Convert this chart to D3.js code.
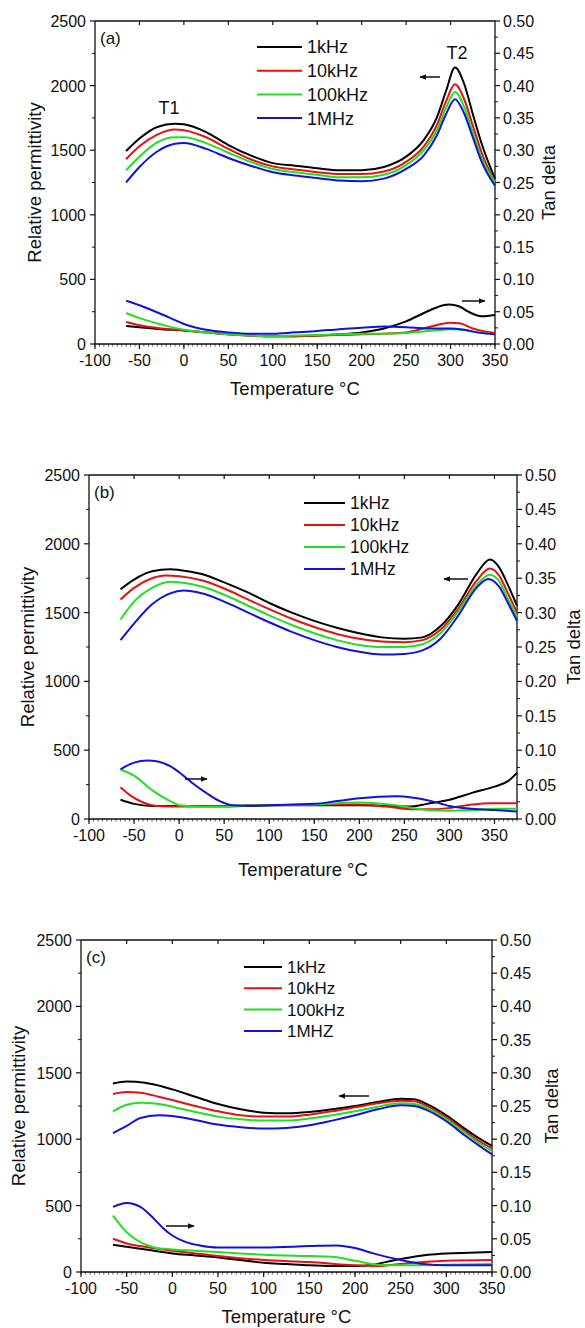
<!DOCTYPE html>
<html lang="en">
<head>
<meta charset="UTF-8">
<title>Relative permittivity and tan delta vs temperature</title>
<script src="https://d3js.org/d3.v7.min.js"></script>
<style>
    body { margin: 0; background: #fff; }
    svg { display: block; font-family: "Liberation Sans", Arial, sans-serif; }
    .tick-label { font-size: 16px; fill: #111; }
    .axis-title { font-size: 18.5px; fill: #111; }
    .legend-text { fill: #111; }
    .series { fill: none; stroke-width: 2; }
    .axis-line { stroke: #111; stroke-width: 1.3; fill: none; }
</style>
</head>
<body>
<svg id="chart" width="585" height="1328"></svg>
<script>
    const seriesNames = ["1kHz", "10kHz", "100kHz", "1MHz"];
    const seriesNamesC = ["1kHz", "10kHz", "100kHz", "1MHZ"];
    const seriesColors = ["#000000", "#e81010", "#20e020", "#1010e0"];
    const xTicks = [-100, -50, 0, 50, 100, 150, 200, 250, 300, 350];
    const permTicks = [0, 500, 1000, 1500, 2000, 2500];
    const tanTicks = [0, 0.05, 0.10, 0.15, 0.20, 0.25, 0.30, 0.35, 0.40, 0.45, 0.50];

    // panel (a) — relative permittivity, [temperature, value]
    const aPerm1k = [[-65,1493],[-50,1590],[-30,1680],[-10,1705],[0,1700],[25,1640],[50,1540],[75,1460],[100,1400],[125,1380],[150,1360],[175,1345],[200,1345],[225,1370],[250,1450],[270,1580],[285,1760],[295,1960],[305,2140],[315,2020],[325,1780],[335,1550],[350,1280]];
    const aPerm10k = [[-65,1430],[-50,1530],[-30,1620],[-10,1660],[0,1655],[25,1600],[50,1510],[75,1430],[100,1375],[125,1350],[150,1330],[175,1315],[200,1315],[225,1335],[250,1410],[270,1530],[285,1700],[295,1880],[305,2010],[315,1900],[325,1690],[335,1480],[350,1255]];
    const aPerm100k = [[-65,1345],[-50,1450],[-30,1560],[-10,1600],[0,1600],[25,1555],[50,1480],[75,1410],[100,1355],[125,1330],[150,1310],[175,1290],[200,1290],[225,1310],[250,1385],[270,1500],[285,1660],[295,1830],[305,1950],[315,1840],[325,1640],[335,1440],[350,1250]];
    const aPerm1M = [[-65,1250],[-50,1370],[-30,1490],[-10,1550],[0,1555],[25,1510],[50,1440],[75,1380],[100,1330],[125,1305],[150,1285],[175,1265],[200,1260],[225,1280],[250,1355],[270,1460],[285,1620],[295,1780],[305,1895],[315,1790],[325,1600],[335,1410],[350,1225]];
    // panel (a) — tan delta
    const aTan1k = [[-65,0.028],[-50,0.026],[-25,0.023],[0,0.021],[25,0.018],[50,0.015],[75,0.013],[100,0.012],[125,0.012],[150,0.013],[175,0.015],[200,0.018],[225,0.024],[250,0.035],[270,0.048],[285,0.057],[298,0.061],[310,0.058],[320,0.050],[335,0.043],[350,0.045]];
    const aTan10k = [[-65,0.034],[-50,0.029],[-25,0.024],[0,0.021],[25,0.018],[50,0.015],[75,0.013],[100,0.012],[125,0.012],[150,0.013],[175,0.014],[200,0.015],[225,0.016],[250,0.018],[275,0.026],[300,0.033],[310,0.032],[325,0.024],[340,0.019],[350,0.017]];
    const aTan100k = [[-65,0.048],[-50,0.040],[-25,0.030],[0,0.022],[25,0.018],[50,0.015],[75,0.013],[100,0.012],[125,0.013],[150,0.014],[175,0.015],[200,0.016],[225,0.016],[250,0.017],[275,0.020],[300,0.023],[315,0.022],[330,0.018],[350,0.015]];
    const aTan1M = [[-65,0.067],[-50,0.060],[-25,0.046],[-10,0.037],[0,0.031],[25,0.022],[50,0.018],[75,0.016],[100,0.016],[125,0.018],[150,0.020],[175,0.023],[200,0.025],[225,0.027],[250,0.026],[275,0.024],[300,0.024],[315,0.022],[330,0.018],[350,0.015]];

    // panel (b)
    const bPerm1k = [[-65,1670],[-50,1740],[-30,1800],[-10,1815],[0,1810],[25,1780],[50,1720],[75,1650],[100,1570],[125,1500],[150,1440],[175,1390],[200,1350],[225,1320],[250,1310],[270,1320],[290,1400],[310,1560],[330,1780],[345,1885],[355,1830],[365,1700],[375,1550]];
    const bPerm10k = [[-65,1595],[-50,1680],[-30,1750],[-15,1770],[0,1765],[25,1735],[50,1675],[75,1600],[100,1525],[125,1455],[150,1395],[175,1345],[200,1310],[225,1290],[250,1285],[270,1300],[290,1375],[310,1530],[330,1730],[345,1820],[355,1770],[365,1640],[375,1500]];
    const bPerm100k = [[-65,1450],[-50,1580],[-30,1680],[-10,1725],[0,1720],[25,1690],[50,1630],[75,1555],[100,1480],[125,1410],[150,1350],[175,1300],[200,1265],[225,1250],[250,1250],[270,1270],[290,1350],[310,1510],[330,1700],[345,1775],[355,1730],[365,1600],[375,1470]];
    const bPerm1M = [[-65,1300],[-50,1420],[-30,1560],[-10,1640],[5,1660],[25,1640],[50,1580],[75,1505],[100,1430],[125,1360],[150,1300],[175,1250],[200,1215],[225,1195],[250,1200],[270,1225],[290,1310],[310,1480],[330,1680],[343,1745],[355,1690],[365,1570],[375,1440]];
    const bTan1k = [[-65,0.028],[-50,0.022],[-30,0.019],[0,0.019],[50,0.019],[100,0.020],[150,0.020],[200,0.020],[230,0.019],[255,0.018],[275,0.022],[300,0.028],[325,0.038],[350,0.047],[365,0.055],[375,0.067]];
    const bTan10k = [[-65,0.046],[-55,0.035],[-40,0.024],[-25,0.019],[0,0.018],[50,0.018],[100,0.020],[150,0.021],[200,0.021],[230,0.018],[260,0.014],[280,0.014],[300,0.016],[325,0.021],[345,0.023],[375,0.023]];
    const bTan100k = [[-65,0.072],[-50,0.063],[-30,0.042],[-10,0.026],[0,0.020],[25,0.018],[50,0.018],[100,0.020],[150,0.021],[200,0.024],[225,0.022],[250,0.018],[275,0.013],[300,0.012],[325,0.013],[350,0.015],[375,0.015]];
    const bTan1M = [[-65,0.072],[-50,0.082],[-35,0.085],[-25,0.084],[-10,0.077],[0,0.068],[15,0.052],[30,0.038],[45,0.026],[60,0.020],[80,0.019],[100,0.020],[150,0.022],[175,0.026],[200,0.030],[240,0.033],[260,0.031],[280,0.026],[300,0.019],[325,0.015],[350,0.013],[375,0.011]];

    // panel (c)
    const cPerm1k = [[-65,1420],[-50,1435],[-30,1425],[-10,1395],[0,1375],[25,1320],[50,1265],[75,1225],[100,1200],[125,1195],[150,1205],[175,1225],[200,1250],[225,1280],[250,1305],[265,1300],[280,1260],[300,1180],[320,1080],[335,1010],[350,950]];
    const cPerm10k = [[-65,1340],[-50,1355],[-35,1350],[-15,1320],[0,1295],[25,1250],[50,1210],[75,1180],[100,1170],[125,1170],[150,1185],[175,1210],[200,1240],[225,1270],[250,1290],[265,1285],[280,1245],[300,1165],[320,1065],[335,990],[350,930]];
    const cPerm100k = [[-65,1210],[-50,1260],[-35,1275],[-15,1265],[0,1245],[25,1205],[50,1170],[75,1150],[100,1140],[125,1140],[150,1155],[175,1180],[200,1210],[225,1245],[250,1270],[265,1265],[280,1230],[300,1150],[320,1050],[335,975],[350,910]];
    const cPerm1M = [[-65,1045],[-50,1100],[-35,1160],[-15,1180],[0,1175],[25,1145],[50,1110],[75,1090],[100,1080],[125,1085],[150,1105],[175,1140],[200,1180],[225,1225],[250,1255],[265,1250],[280,1215],[300,1135],[320,1030],[335,955],[350,885]];
    const cTan1k = [[-65,0.041],[-50,0.038],[-25,0.033],[0,0.028],[25,0.025],[50,0.022],[75,0.018],[100,0.014],[125,0.012],[150,0.010],[175,0.009],[200,0.009],[220,0.011],[240,0.017],[260,0.022],[280,0.026],[300,0.028],[325,0.029],[350,0.030]];
    const cTan10k = [[-65,0.050],[-50,0.043],[-25,0.037],[0,0.032],[25,0.028],[50,0.024],[100,0.018],[150,0.015],[200,0.010],[225,0.009],[250,0.012],[275,0.015],[300,0.017],[350,0.018]];
    const cTan100k = [[-65,0.085],[-50,0.060],[-35,0.045],[-20,0.037],[0,0.034],[25,0.032],[50,0.030],[100,0.026],[150,0.024],[175,0.023],[200,0.017],[225,0.011],[250,0.010],[300,0.011],[350,0.012]];
    const cTan1M = [[-65,0.098],[-50,0.104],[-35,0.098],[-20,0.080],[-10,0.066],[0,0.055],[15,0.045],[30,0.040],[50,0.037],[100,0.037],[150,0.039],[180,0.040],[200,0.036],[220,0.028],[250,0.018],[275,0.012],[300,0.010],[350,0.010]];

    const svg = d3.select("#chart");

    const panels = [
        { tag: "(a)", left: 95, right: 495, top: 21, bottom: 344, xMax: 350,
          perm: [aPerm1k, aPerm10k, aPerm100k, aPerm1M], tan: [aTan1k, aTan10k, aTan100k, aTan1M],
          names: seriesNames, legend: [257, 302, 47, 23.7, 18], yTitleX: 35, tanTitleX: 549, xTitleY: 395,
          arrows: [[440, 420, 77], [462, 485, 301]],
          notes: [["T1", 169, 114], ["T2", 457, 59]] },
        { tag: "(b)", left: 89, right: 517, top: 475, bottom: 819, xMax: 375,
          perm: [bPerm1k, bPerm10k, bPerm100k, bPerm1M], tan: [bTan1k, bTan10k, bTan100k, bTan1M],
          names: seriesNames, legend: [304, 345, 503, 22, 17.5], yTitleX: 28, tanTitleX: 574, xTitleY: 876,
          arrows: [[468, 444, 579], [185, 207, 779]], notes: [] },
        { tag: "(c)", left: 81, right: 492, top: 940, bottom: 1272, xMax: 350,
          perm: [cPerm1k, cPerm10k, cPerm100k, cPerm1M], tan: [cTan1k, cTan10k, cTan100k, cTan1M],
          names: seriesNamesC, legend: [244, 282, 967, 21.3, 17], yTitleX: 19, tanTitleX: 552, xTitleY: 1323,
          arrows: [[369, 339, 1096], [166, 194, 1226]], notes: [] }
    ];

    svg.append("defs").append("marker")
        .attr("id", "head")
        .attr("viewBox", "0 0 10 10")
        .attr("refX", 9).attr("refY", 5)
        .attr("markerWidth", 7).attr("markerHeight", 7)
        .attr("markerUnits", "userSpaceOnUse")
        .attr("orient", "auto")
        .append("path").attr("d", "M0,1 L10,5 L0,9 Z").attr("fill", "#111");

    panels.forEach(p => {
        const g = svg.append("g");
        const x = d3.scaleLinear().domain([-100, p.xMax]).range([p.left, p.right]);
        const yP = d3.scaleLinear().domain([0, 2500]).range([p.bottom, p.top]);
        const yT = d3.scaleLinear().domain([0, 0.5]).range([p.bottom, p.top]);

        // x ticks: minor every 5, major every 50, labels below
        const xMinor = d3.range(-100, p.xMax + 0.1, 5);
        g.selectAll(".xminor").data(xMinor).enter().append("line")
            .attr("x1", d => x(d)).attr("x2", d => x(d))
            .attr("y1", p.bottom).attr("y2", p.bottom + 2.5)
            .attr("stroke", "#333").attr("stroke-width", 0.8);
        g.selectAll(".xmajor").data(xTicks).enter().append("line")
            .attr("x1", d => x(d)).attr("x2", d => x(d))
            .attr("y1", p.bottom).attr("y2", p.bottom + 5)
            .attr("stroke", "#111").attr("stroke-width", 1.2);
        g.selectAll(".xtop").data(xTicks.filter(d => d > -100 && d < p.xMax)).enter().append("line")
            .attr("x1", d => x(d)).attr("x2", d => x(d))
            .attr("y1", p.top).attr("y2", p.top + 4)
            .attr("stroke", "#111").attr("stroke-width", 1.2);
        g.selectAll(".xlab").data(xTicks).enter().append("text")
            .attr("class", "tick-label")
            .attr("x", d => x(d)).attr("y", p.bottom + 22)
            .attr("text-anchor", "middle")
            .text(d => d);

        const permMinor = d3.range(250, 2500, 500);
        g.selectAll(".pminor").data(permMinor).enter().append("line")
            .attr("x1", p.left - 3).attr("x2", p.left)
            .attr("y1", d => yP(d)).attr("y2", d => yP(d))
            .attr("stroke", "#111").attr("stroke-width", 1);
        g.selectAll(".pmajor").data(permTicks).enter().append("line")
            .attr("x1", p.left - 5).attr("x2", p.left)
            .attr("y1", d => yP(d)).attr("y2", d => yP(d))
            .attr("stroke", "#111").attr("stroke-width", 1.2);
        g.selectAll(".plab").data(permTicks).enter().append("text")
            .attr("class", "tick-label")
            .attr("x", p.left - 9).attr("y", d => yP(d) + 6)
            .attr("text-anchor", "end")
            .text(d => d);

        const tanMinor = d3.range(0.025, 0.5, 0.05);
        g.selectAll(".tminor").data(tanMinor).enter().append("line")
            .attr("x1", p.right).attr("x2", p.right + 3)
            .attr("y1", d => yT(d)).attr("y2", d => yT(d))
            .attr("stroke", "#111").attr("stroke-width", 1);
        g.selectAll(".tmajor").data(tanTicks).enter().append("line")
            .attr("x1", p.right).attr("x2", p.right + 5)
            .attr("y1", d => yT(d)).attr("y2", d => yT(d))
            .attr("stroke", "#111").attr("stroke-width", 1.2);
        g.selectAll(".tlab").data(tanTicks).enter().append("text")
            .attr("class", "tick-label")
            .attr("x", p.right + 8).attr("y", d => yT(d) + 6)
            .text(d => d.toFixed(2));

        // frame
        g.append("path").attr("class", "axis-line")
            .attr("d", `M${p.left},${p.top}V${p.bottom}H${p.right}V${p.top}H${p.left}`);

        // series
        const permLine = d3.line().x(d => x(d[0])).y(d => yP(d[1])).curve(d3.curveMonotoneX);
        const tanLine = d3.line().x(d => x(d[0])).y(d => yT(d[1])).curve(d3.curveMonotoneX);
        p.tan.forEach((s, i) => {
            g.append("path").attr("class", "series")
                .attr("stroke", seriesColors[i]).attr("d", tanLine(s));
        });
        p.perm.forEach((s, i) => {
            g.append("path").attr("class", "series")
                .attr("stroke", seriesColors[i]).attr("d", permLine(s));
        });

        // legend
        const [lx1, lx2, ly0, ldy, lfs] = p.legend;
        p.names.forEach((n, i) => {
            g.append("line")
                .attr("x1", lx1).attr("x2", lx2)
                .attr("y1", ly0 + i * ldy).attr("y2", ly0 + i * ldy)
                .attr("stroke", seriesColors[i]).attr("stroke-width", 2);
            g.append("text").attr("class", "legend-text")
                .style("font-size", lfs + "px")
                .attr("x", lx2 + 5).attr("y", ly0 + i * ldy + lfs * 0.36)
                .text(n);
        });

        g.append("text").attr("class", "legend-text")
            .style("font-size", "17px")
            .attr("x", p.left + 5).attr("y", p.top + 23)
            .text(p.tag);

        p.notes.forEach(nt => {
            g.append("text").attr("class", "legend-text")
                .style("font-size", "18px")
                .attr("x", nt[1]).attr("y", nt[2])
                .attr("text-anchor", "middle")
                .text(nt[0]);
        });

        p.arrows.forEach(a => {
            g.append("line")
                .attr("x1", a[0]).attr("x2", a[1])
                .attr("y1", a[2]).attr("y2", a[2])
                .attr("stroke", "#111").attr("stroke-width", 1.5)
                .attr("marker-end", "url(#head)");
        });

        // axis titles
        const midY = (p.top + p.bottom) / 2;
        g.append("text").attr("class", "axis-title")
            .attr("transform", `translate(${p.yTitleX},${midY}) rotate(-90)`)
            .attr("text-anchor", "middle").attr("dy", "0.35em")
            .text("Relative permittivity");
        g.append("text").attr("class", "axis-title")
            .attr("transform", `translate(${p.tanTitleX},${midY}) rotate(-90)`)
            .attr("text-anchor", "middle").attr("dy", "0.35em")
            .text("Tan delta");
        g.append("text").attr("class", "axis-title")
            .attr("x", (p.left + p.right) / 2).attr("y", p.xTitleY)
            .attr("text-anchor", "middle")
            .text("Temperature °C");
    });
</script>
</body>
</html>
